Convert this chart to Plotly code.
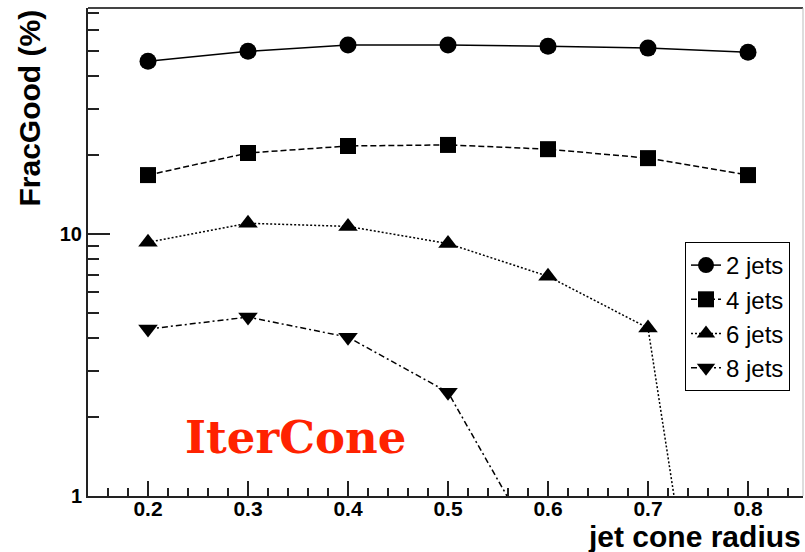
import numpy as np
import plotly.graph_objects as go

radius = [0.2, 0.3, 0.4, 0.5, 0.6, 0.7, 0.8]
jets2 = [45.7, 49.9, 52.7, 52.7, 52.2, 51.3, 49.5]
jets4 = [16.8, 20.4, 21.7, 21.9, 21.1, 19.5, 16.8]
jets6 = [9.3, 11.0, 10.7, 9.2, 6.9, 4.38, 0.015]
radius8 = [0.2, 0.3, 0.4, 0.5, 0.6]
jets8 = [4.34, 4.82, 4.04, 2.49, 0.53]
y_major = [1, 10]
y_minor = [2, 3, 4, 5, 6, 7, 8, 9, 20, 30, 40, 50, 60, 70]
y_max = 73

series = [
    ("2 jets", radius, jets2, "circle", 17, "solid"),
    ("4 jets", radius, jets4, "square", 16, "6px,3px"),
    ("6 jets", radius, jets6, "triangle-up", 17, "2px,2px"),
    ("8 jets", radius8, jets8, "triangle-down", 17, "6px,3px,2px,3px"),
]

# y axis is a logarithmic scale: values are mapped with log10 onto a linear axis
fig = go.Figure()
for name, xs, ys, sym, sz, dash in series:
    fig.add_trace(go.Scatter(
        x=xs, y=np.log10(ys), name=name, mode="lines+markers", legendgroup=name,
        customdata=ys, hovertemplate="%{x}: %{customdata}<extra>" + name + "</extra>",
        line=dict(color="black", width=1.5, dash=dash),
        marker=dict(symbol=sym, size=sz, color="black"),
    ))

W, H = 805, 552
L, R, T, B = 88, 2, 8, 56
PW, PH = W - L - R, H - T - B

fig.update_layout(
    width=W, height=H,
    margin=dict(l=L, r=R, t=T, b=B),
    paper_bgcolor="white", plot_bgcolor="white",
    font=dict(family="Liberation Sans, Arial, sans-serif", color="black"),
    showlegend=True,
    legend=dict(
        x=(685 - L) / PW, y=(H - B - 242) / PH,
        xanchor="left", yanchor="top",
        bordercolor="black", borderwidth=1, bgcolor="white",
        font=dict(size=24, color="black"),
        tracegroupgap=0, itemwidth=30,
    ),
    xaxis=dict(
        range=[0.14, 0.855], dtick=0.1, tick0=0,
        ticks="inside", ticklen=15, tickwidth=1.5, tickcolor="#222",
        showline=True, linecolor="#222", linewidth=2, mirror=False,
        showgrid=False, zeroline=False,
        tickfont=dict(size=21, weight="bold"),
        tickformat=".1f", ticklabelstandoff=-7,
        minor=dict(dtick=0.02, ticks="inside", ticklen=8, tickwidth=1.5, tickcolor="#222", showgrid=False),
    ),
    yaxis=dict(
        type="linear", range=[0, np.log10(y_max)],
        tickmode="array", tickvals=np.log10(y_major).tolist(),
        ticktext=[str(v) for v in y_major],
        ticks="inside", ticklen=22, tickwidth=1.5, tickcolor="#222",
        showline=True, linecolor="#222", linewidth=2, mirror=False,
        showgrid=False, zeroline=False,
        tickfont=dict(size=20, weight="bold"),
        minor=dict(tickmode="array", tickvals=np.log10(y_minor).tolist(),
                   ticks="inside", ticklen=11, tickwidth=1.5, tickcolor="#222", showgrid=False),
    ),
    shapes=[
        dict(type="line", xref="paper", yref="paper", x0=0, x1=1, y0=1, y1=1,
             line=dict(color="#444", width=2)),
        dict(type="line", xref="paper", yref="paper", x0=1, x1=1, y0=0, y1=1,
             line=dict(color="#bbb", width=1)),
    ],
    annotations=[
        dict(text="FracGood (%)", xref="paper", yref="paper",
             x=(29 - L) / PW, y=1, xanchor="center", yanchor="top",
             textangle=-90, showarrow=False,
             font=dict(size=30, color="black", weight="bold")),
        dict(text="jet cone radius", xref="paper", yref="paper",
             x=1, y=(H - B - 555) / PH, xanchor="right", yanchor="bottom",
             showarrow=False, font=dict(size=30, color="black", weight="bold")),
        dict(text="IterCone", xref="paper", yref="paper",
             x=(183 - L) / PW, y=(H - B - 437) / PH,
             xanchor="left", yanchor="middle", showarrow=False,
             font=dict(family="DejaVu Serif", size=45, color="#ff2200", weight="bold")),
    ],
)

fig.write_html("out.html")
